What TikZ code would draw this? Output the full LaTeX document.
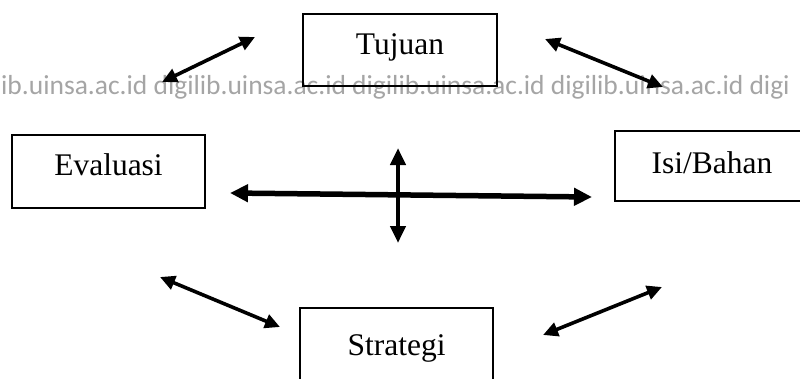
\documentclass[tikz,border=0pt]{standalone}
\usepackage{fontspec}
\setmainfont{Liberation Serif}
\newfontfamily\wmfont{Carlito}
\usetikzlibrary{arrows.meta}
\definecolor{wmgray}{RGB}{165,165,165}
\tikzset{
  box/.style={draw=black, line width=2pt, rectangle, inner sep=0pt,
    text height=18pt, text depth=10pt, font=\fontsize{31.5}{31.5}\selectfont},
  dbl/.style={line width=3.6pt, {Triangle[length=15pt,width=14pt]}-{Triangle[length=15pt,width=14pt]}},
  thick dbl/.style={line width=5.5pt, {Triangle[length=18pt,width=17pt]}-{Triangle[length=18pt,width=17pt]}},
  mid dbl/.style={line width=4.8pt, {Triangle[length=17pt,width=15pt]}-{Triangle[length=17pt,width=15pt]}},
  watermark/.style={text=wmgray, font=\wmfont\fontsize{27.5}{27.5}\selectfont, inner sep=0pt, anchor=base west}
}
\begin{document}
\begin{tikzpicture}[x=1pt, y=-1pt]
\useasboundingbox (0,0) rectangle (800,378);
\begin{scope}
\clip (0,0) rectangle (800,378);
\fill[white] (0,0) rectangle (800,378);
% watermark
\node[watermark] (wm) at (1,94) {ib.uinsa.ac.id digilib.uinsa.ac.id digilib.uinsa.ac.id digilib.uinsa.ac.id digi};
% boxes
\node[box, minimum width=194pt, minimum height=72pt] (tuj) at (400,50) {Tujuan};
\node[box, minimum width=193pt, minimum height=73pt] (eva) at (108.5,171.5) {Evaluasi};
\node[box, minimum width=194pt, minimum height=70pt, text depth=4pt] (isi) at (712,166) {Isi/Bahan};
\node[box, minimum width=193pt, minimum height=86pt] (str) at (396.5,351) {Strategi};
% arrow end points
\coordinate (a1s) at (162,82);  \coordinate (a1e) at (255,37);
\coordinate (a2s) at (545,39);  \coordinate (a2e) at (663,87);
\coordinate (a3s) at (160,277); \coordinate (a3e) at (280,327);
\coordinate (a4s) at (543,335); \coordinate (a4e) at (662,287);
\coordinate (hs) at (230,193);  \coordinate (he) at (592,197);
\coordinate (vs) at (398,148);  \coordinate (ve) at (398,243);
\draw[dbl] (a1s) -- (a1e);
\draw[dbl] (a2s) -- (a2e);
\draw[dbl] (a3s) -- (a3e);
\draw[dbl] (a4s) -- (a4e);
\draw[thick dbl] (hs) -- (he);
\draw[mid dbl] (vs) -- (ve);
\end{scope}
\end{tikzpicture}
\end{document}
